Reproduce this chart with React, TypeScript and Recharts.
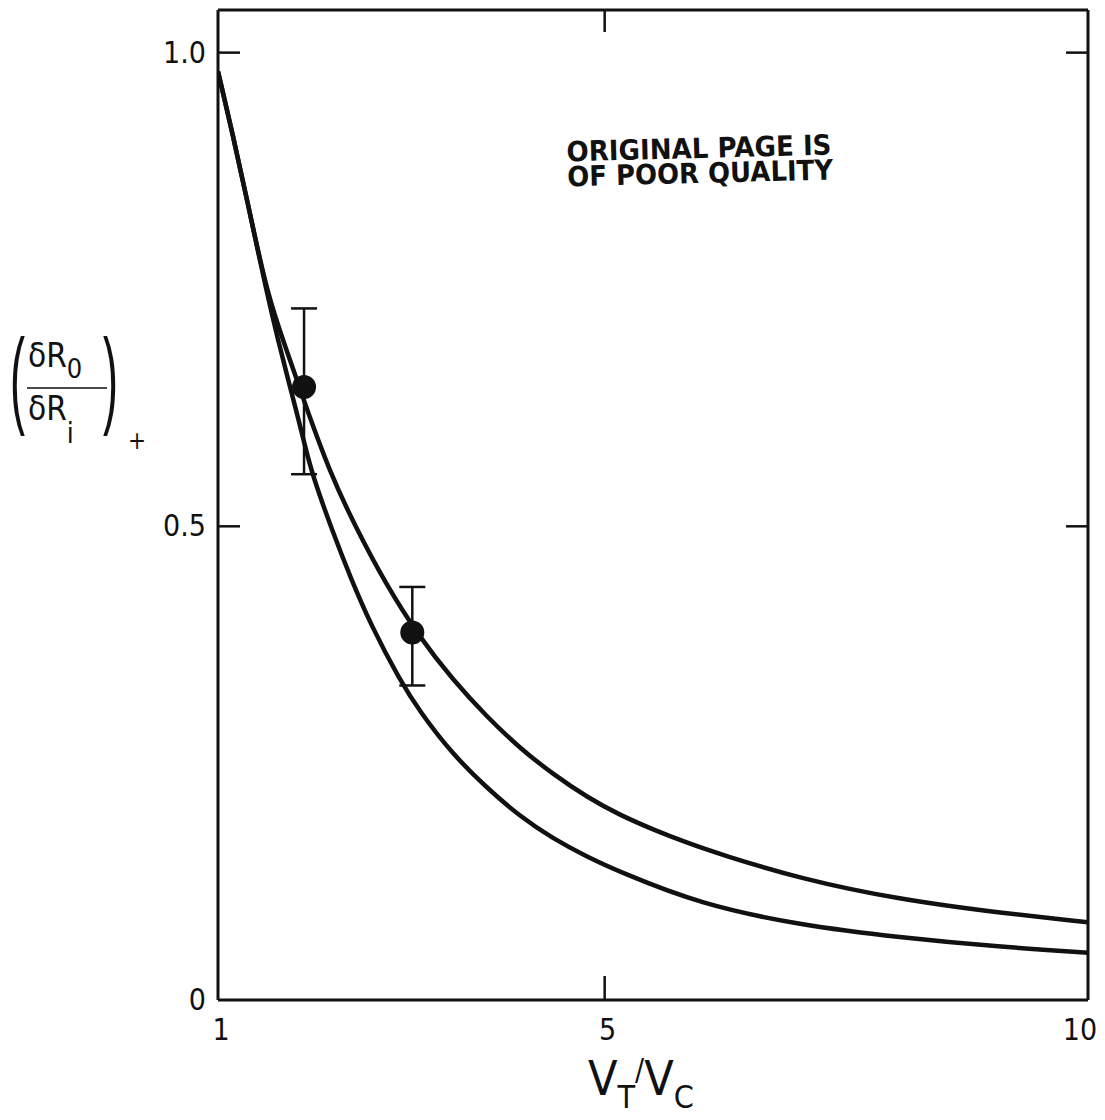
import React from 'react';
import {
  ComposedChart,
  Line,
  Scatter,
  ErrorBar,
  XAxis,
  YAxis,
  Label,
} from 'recharts';

// curves (x = VT/VC)
const upperX = [1, 1.15, 1.3, 1.51, 1.71, 1.89, 2.16, 2.42, 2.73, 3.09, 3.43, 3.78, 4.12, 4.47, 4.82, 5.16, 5.5, 5.85, 6.19, 7.02, 8.05, 9.09, 10];
const upperY = [0.98, 0.915, 0.845, 0.744, 0.686, 0.632, 0.556, 0.5, 0.44, 0.382, 0.338, 0.299, 0.266, 0.238, 0.214, 0.195, 0.18, 0.166, 0.154, 0.128, 0.106, 0.092, 0.082];

const lowerX = [1, 1.15, 1.3, 1.51, 1.62, 1.72, 1.82, 1.9, 1.98, 2.18, 2.37, 2.59, 2.88, 3.09, 3.43, 3.78, 4.12, 4.47, 4.82, 5.16, 5.99, 7.02, 8.05, 9.09, 10];
const lowerY = [0.98, 0.915, 0.845, 0.744, 0.697, 0.657, 0.618, 0.585, 0.553, 0.496, 0.446, 0.394, 0.338, 0.304, 0.259, 0.224, 0.194, 0.17, 0.151, 0.135, 0.101, 0.079, 0.066, 0.056, 0.05];

// measured points with error bars
const pointX = [1.89, 3.01];
const pointY = [0.647, 0.388];
const errLow = [0.092, 0.056];
const errHigh = [0.083, 0.048];

const xTicks = [1, 5, 10];
const yTicks = [0, 0.5, 1];
const yTickLabels = ['0', '0.5', '1.0'];

const upperData = upperX.map((x, i) => ({ x, y: upperY[i] }));
const lowerData = lowerX.map((x, i) => ({ x, y: lowerY[i] }));
const pointData = pointX.map((x, i) => ({ x, y: pointY[i], err: [errLow[i], errHigh[i]] }));

const INK = '#111';
const FONT = '"DejaVu Sans Condensed", "DejaVu Sans", sans-serif';
const FRAME = { stroke: INK, strokeWidth: 3 };

const BottomTick = (props: any) => {
  const { x, y, payload } = props;
  const v = payload.value;
  return (
    <g>
      {v !== 1 && v !== 10 && <line x1={x} y1={y} x2={x} y2={y - 24} stroke={INK} strokeWidth={2.5} />}
      <text x={v === 10 ? x - 8 : x + 3} y={y + 40} textAnchor="middle" fontSize={30} fontFamily={FONT} fill={INK}>
        {v}
      </text>
    </g>
  );
};

const TopTick = (props: any) => {
  const { x, y } = props;
  return <line x1={x} y1={y} x2={x} y2={y + 22} stroke={INK} strokeWidth={2.5} />;
};

const LeftTick = (props: any) => {
  const { x, y, payload } = props;
  const idx = yTicks.indexOf(payload.value);
  return (
    <g>
      {payload.value > 0 && <line x1={x} y1={y} x2={x + 22} y2={y} stroke={INK} strokeWidth={2.5} />}
      <text x={x - 12} y={y + 10} textAnchor="end" fontSize={30} fontFamily={FONT} fill={INK}>
        {yTickLabels[idx]}
      </text>
    </g>
  );
};

const RightTick = (props: any) => {
  const { x, y } = props;
  return <line x1={x} y1={y} x2={x - 22} y2={y} stroke={INK} strokeWidth={2.5} />;
};

const XTitle = (props: any) => {
  const { viewBox } = props;
  const x0 = viewBox.x + 370;
  const base = viewBox.y + 95;
  return (
    <text x={x0} y={base} fontFamily={FONT} fill={INK} fontSize={48}>
      V
      <tspan fontSize={32} dy={13}>T</tspan>
      <tspan fontSize={30} dy={-28}>/</tspan>
      <tspan fontSize={48} dy={15}>V</tspan>
      <tspan fontSize={32} dy={13}>C</tspan>
    </text>
  );
};

const YTitle = (props: any) => {
  const { viewBox } = props;
  const ox = viewBox.x;
  const oy = viewBox.y;
  return (
    <g fontFamily={FONT} fill={INK}>
      <text transform={`translate(${ox + 10}, ${oy + 404}) scale(0.75, 1.8)`} fontSize={60} fontFamily="Liberation Sans">(</text>
      <text transform={`translate(${ox + 103}, ${oy + 404}) scale(0.75, 1.8)`} fontSize={60} fontFamily="Liberation Sans">)</text>
      <text x={ox + 28} y={oy + 357} fontSize={33}>
        δR<tspan fontSize={27} dy={11}>0</tspan>
      </text>
      <line x1={ox + 27} y1={oy + 378} x2={ox + 107} y2={oy + 378} stroke={INK} strokeWidth={1.5} />
      <text x={ox + 28} y={oy + 410} fontSize={33}>
        δR<tspan fontSize={28} dy={23}>i</tspan>
      </text>
      <text x={ox + 128} y={oy + 439} fontSize={24}>+</text>
    </g>
  );
};

const Stamp = (props: any) => {
  const { viewBox } = props;
  const sx = viewBox.x + 349;
  const sy = viewBox.y;
  return (
    <g transform={`rotate(-1.5, ${sx + 130}, ${sy + 160})`} fontFamily='"DejaVu Sans", sans-serif' fontWeight="bold" fill={INK}>
      <text x={sx} y={sy + 149} fontSize={28} textLength={265} lengthAdjust="spacingAndGlyphs">ORIGINAL PAGE IS</text>
      <text x={sx} y={sy + 174} fontSize={28} textLength={266} lengthAdjust="spacingAndGlyphs">OF POOR QUALITY</text>
    </g>
  );
};

const Dot = (props: any) => <circle cx={props.cx} cy={props.cy} r={12} fill={INK} />;

export default function App() {
  return (
    <div style={{ width: 1105, height: 1120, background: '#fff' }}>
      <style>{'body{margin:0}'}</style>
      <ComposedChart width={1105} height={1120} margin={{ top: 9, right: 16, bottom: 0, left: 0 }}>
        <XAxis
          xAxisId="bottom"
          type="number"
          dataKey="x"
          domain={[1, 10]}
          ticks={xTicks}
          interval={0}
          allowDataOverflow
          height={120}
          axisLine={FRAME}
          tickLine={false}
          tickSize={0}
          tickMargin={0}
          tick={<BottomTick />}
        >
          <Label content={<XTitle />} />
        </XAxis>
        <XAxis
          xAxisId="top"
          orientation="top"
          type="number"
          dataKey="x"
          domain={[1, 10]}
          ticks={[5]}
          interval={0}
          allowDataOverflow
          height={1}
          axisLine={FRAME}
          tickLine={false}
          tickSize={0}
          tickMargin={0}
          tick={<TopTick />}
        >
          <Label content={<Stamp />} />
        </XAxis>
        <YAxis
          yAxisId="left"
          type="number"
          dataKey="y"
          domain={[0, 1.045]}
          ticks={yTicks}
          interval={0}
          allowDataOverflow
          width={218}
          axisLine={FRAME}
          tickLine={false}
          tickSize={0}
          tickMargin={0}
          tick={<LeftTick />}
        >
          <Label content={<YTitle />} />
        </YAxis>
        <YAxis
          yAxisId="right"
          orientation="right"
          type="number"
          dataKey="y"
          domain={[0, 1.045]}
          ticks={[0.5, 1]}
          interval={0}
          allowDataOverflow
          width={1}
          axisLine={FRAME}
          tickLine={false}
          tickSize={0}
          tickMargin={0}
          tick={<RightTick />}
        />
        {/* invisible series so the top and right frame axes get drawn */}
        <Line
          xAxisId="top"
          yAxisId="right"
          data={upperData}
          dataKey="y"
          stroke="none"
          dot={false}
          activeDot={false}
          legendType="none"
          isAnimationActive={false}
        />
        <Line
          xAxisId="bottom"
          yAxisId="left"
          data={upperData}
          dataKey="y"
          type="basis"
          stroke={INK}
          strokeWidth={4.5}
          dot={false}
          activeDot={false}
          isAnimationActive={false}
        />
        <Line
          xAxisId="bottom"
          yAxisId="left"
          data={lowerData}
          dataKey="y"
          type="basis"
          stroke={INK}
          strokeWidth={4.5}
          dot={false}
          activeDot={false}
          isAnimationActive={false}
        />
        <Scatter
          xAxisId="bottom"
          yAxisId="left"
          data={pointData}
          dataKey="y"
          shape={<Dot />}
          isAnimationActive={false}
        >
          <ErrorBar dataKey="err" direction="y" width={13} stroke={INK} strokeWidth={2.5} isAnimationActive={false} />
        </Scatter>
      </ComposedChart>
    </div>
  );
}
